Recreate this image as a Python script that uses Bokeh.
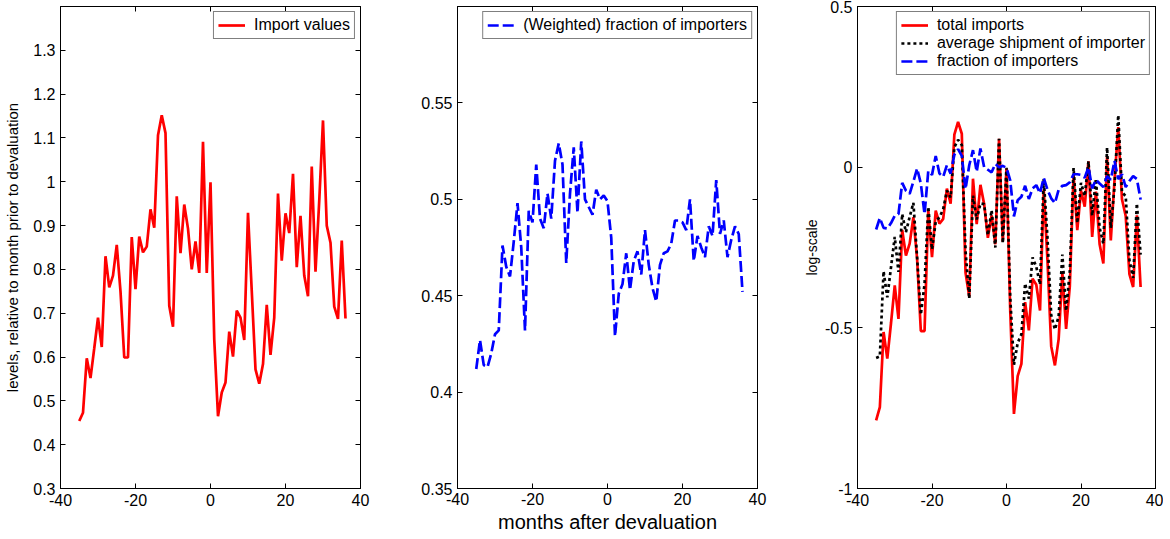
from bokeh.plotting import figure
from bokeh.layouts import row
from bokeh.models import Range1d, FixedTicker, LinearAxis, CustomJSTickFormatter
from bokeh.embed import file_html
from bokeh.resources import INLINE

# ---------------- data ----------------
months = [-35, -34, -33, -32, -31, -30, -29, -28, -27, -26,
          -25, -24, -23, -22, -21, -20, -19, -18, -17, -16,
          -15, -14, -13, -12, -11, -10, -9, -8, -7, -6,
          -5, -4, -3, -2, -1, 0, 1, 2, 3, 4,
          5, 6, 7, 8, 9, 10, 11, 12, 13, 14,
          15, 16, 17, 18, 19, 20, 21, 22, 23, 24,
          25, 26, 27, 28, 29, 30, 31, 32, 33, 34,
          35, 36]

import_values = [0.454, 0.473, 0.597, 0.552, 0.62, 0.69, 0.623, 0.83, 0.759, 0.786,
                 0.856, 0.75, 0.599, 0.599, 0.874, 0.755, 0.875, 0.839, 0.852, 0.937,
                 0.895, 1.106, 1.152, 1.111, 0.717, 0.669, 0.967, 0.837, 0.948, 0.893,
                 0.80, 0.864, 0.792, 1.091, 0.792, 0.999, 0.64, 0.465, 0.519, 0.542,
                 0.658, 0.601, 0.706, 0.69, 0.639, 0.929, 0.751, 0.572, 0.539, 0.584,
                 0.719, 0.605, 0.69, 0.973, 0.82, 0.928, 0.883, 1.018, 0.805, 0.922,
                 0.786, 0.739, 1.035, 0.795, 0.957, 1.14, 0.90, 0.861, 0.715, 0.687,
                 0.866, 0.688]

weighted_fraction = [0.412, 0.427, 0.414, 0.413, 0.42, 0.43, 0.432, 0.476, 0.465, 0.46,
                     0.478, 0.498, 0.475, 0.432, 0.494, 0.488, 0.518, 0.49, 0.485, 0.503,
                     0.49, 0.52, 0.529, 0.518, 0.467, 0.503, 0.527, 0.493, 0.53, 0.50,
                     0.496, 0.492, 0.505, 0.50, 0.502, 0.499, 0.48, 0.429, 0.451, 0.456,
                     0.472, 0.453, 0.468, 0.473, 0.461, 0.484, 0.466, 0.454, 0.447, 0.466,
                     0.472, 0.473, 0.477, 0.489, 0.489, 0.488, 0.484, 0.500, 0.468, 0.481,
                     0.475, 0.470, 0.486, 0.481, 0.510, 0.482, 0.489, 0.470, 0.479, 0.486,
                     0.482, 0.452]

log_total_imports = [-0.788, -0.747, -0.513, -0.596, -0.485, -0.368, -0.472, -0.195, -0.275, -0.238,
                     -0.156, -0.285, -0.51, -0.51, -0.135, -0.28, -0.135, -0.176, -0.161, -0.067,
                     -0.114, 0.101, 0.141, 0.104, -0.328, -0.403, -0.036, -0.177, -0.055, -0.115,
                     -0.22, -0.150, -0.24, 0.088, -0.232, -0.004, -0.446, -0.768, -0.650, -0.612,
                     -0.42, -0.508, -0.347, -0.366, -0.446, -0.07, -0.29, -0.557, -0.617, -0.535,
                     -0.33, -0.503, -0.37, -0.025, -0.196, -0.073, -0.123, 0.018, -0.217, -0.076,
                     -0.24, -0.30, 0.033, -0.228, -0.04, 0.125, -0.10, -0.152, -0.333, -0.373,
                     -0.15, -0.373]

log_avg_shipment = [-0.594, -0.589, -0.324, -0.405, -0.311, -0.217, -0.326, -0.146, -0.202, -0.155,
                    -0.111, -0.281, -0.459, -0.364, -0.123, -0.256, -0.17, -0.156, -0.131, -0.073,
                    -0.094, 0.062, 0.085, 0.069, -0.26, -0.409, -0.089, -0.163, -0.113, -0.115,
                    -0.212, -0.134, -0.25, 0.088, -0.236, -0.002, -0.405, -0.615, -0.547, -0.52,
                    -0.362, -0.409, -0.281, -0.31, -0.365, -0.037, -0.22, -0.46, -0.505, -0.465,
                    -0.272, -0.447, -0.323, -0.003, -0.174, -0.049, -0.09, 0.018, -0.151, -0.037,
                    -0.189, -0.238, 0.061, -0.189, -0.06, 0.162, -0.078, -0.09, -0.29, -0.345,
                    -0.113, -0.272]

log_fraction = [-0.194, -0.158, -0.189, -0.191, -0.174, -0.151, -0.146, -0.049, -0.073, -0.083,
                -0.045, -0.004, -0.051, -0.146, -0.012, -0.024, 0.035, -0.02, -0.03, 0.006,
                -0.02, 0.039, 0.056, 0.035, -0.068, 0.006, 0.053, -0.014, 0.058, 0.0,
                -0.008, -0.016, 0.01, 0.0, 0.004, -0.002, -0.041, -0.153, -0.103, -0.092,
                -0.058, -0.099, -0.066, -0.056, -0.081, -0.033, -0.07, -0.097, -0.112, -0.07,
                -0.058, -0.056, -0.047, -0.022, -0.022, -0.024, -0.033, 0.0, -0.066, -0.039,
                -0.051, -0.062, -0.028, -0.039, 0.02, -0.037, -0.022, -0.062, -0.043, -0.028,
                -0.037, -0.101]

x_ticks = [-40, -20, 0, 20, 40]
y_ticks_1 = [0.3, 0.4, 0.5, 0.6, 0.7, 0.8, 0.9, 1.0, 1.1, 1.2, 1.3]
y_ticks_2 = [0.35, 0.4, 0.45, 0.5, 0.55]
y_ticks_3 = [-1.0, -0.5, 0.0, 0.5]

# ---------------- styling ----------------
FONT = "Liberation Sans"
TICK_SIZE = "16px"
H = 537
num_fmt = "return (Math.round(tick*1000)/1000).toString();"


def style_axis(ax, ticks, label_fmt=True):
    ax.ticker = FixedTicker(ticks=ticks, minor_ticks=[])
    ax.major_tick_in = 5
    ax.major_tick_out = 0
    ax.minor_tick_line_color = None
    ax.axis_line_color = "black"
    ax.major_tick_line_color = "black"
    ax.axis_line_width = 1
    if label_fmt:
        ax.formatter = CustomJSTickFormatter(code=num_fmt)
        ax.major_label_text_font = FONT
        ax.major_label_text_font_size = TICK_SIZE
        ax.major_label_text_color = "black"
        ax.major_label_standoff = 5
    else:
        ax.formatter = CustomJSTickFormatter(code="return '';")
        ax.major_label_text_font_size = "0px"
        ax.major_label_standoff = 0


def make_fig(width, left, right, yr, yticks):
    p = figure(width=width, height=H, x_range=Range1d(-40, 40), y_range=Range1d(*yr),
               output_backend="svg", toolbar_location=None,
               min_border_left=left, min_border_right=right,
               min_border_top=6, min_border_bottom=49)
    p.xgrid.visible = False
    p.ygrid.visible = False
    p.outline_line_color = "black"
    p.background_fill_color = "white"
    p.border_fill_color = "white"
    xax = p.below[0]
    yax = p.left[0]
    style_axis(xax, x_ticks)
    style_axis(yax, yticks)
    ax_r = LinearAxis()
    style_axis(ax_r, yticks, label_fmt=False)
    p.add_layout(ax_r, "right")
    ax_t = LinearAxis()
    style_axis(ax_t, x_ticks, label_fmt=False)
    p.add_layout(ax_t, "above")
    return p, xax, yax


def style_label(ax, text, size, standoff):
    ax.axis_label = text
    ax.axis_label_text_font = FONT
    ax.axis_label_text_font_size = size
    ax.axis_label_text_font_style = "normal"
    ax.axis_label_text_color = "black"
    ax.axis_label_standoff = standoff


def style_legend(p):
    lg = p.legend[0]
    lg.location = "top_right"
    lg.margin = 5
    lg.padding = 4
    lg.spacing = 0
    lg.glyph_width = 27
    lg.glyph_height = 18
    lg.label_height = 18
    lg.label_standoff = 9
    lg.label_text_font = FONT
    lg.label_text_font_size = "16px"
    lg.label_text_color = "black"
    lg.border_line_color = "black"
    lg.border_line_width = 1
    lg.background_fill_color = "white"
    lg.background_fill_alpha = 1.0


LW = 2.7

# Panel 1
p1, x1, y1 = make_fig(400, 60, 40, (0.3, 1.4), y_ticks_1)
p1.line(months, import_values, line_color="#ff0000", line_width=LW, legend_label="Import values")
style_label(y1, "levels, relative to month prior to devaluation", "15px", 9)
style_legend(p1)

# Panel 2
p2, x2, y2 = make_fig(400, 57, 43, (0.35, 0.6), y_ticks_2)
p2.line(months, weighted_fraction, line_color="#0000ff", line_width=LW, line_dash="11 4",
        legend_label="(Weighted) fraction of importers")
style_label(x2, "months after devaluation", "20px", 3)
x2.major_label_standoff = 4
style_legend(p2)

# Panel 3
p3, x3, y3 = make_fig(363, 55, 8, (-1.0, 0.5), y_ticks_3)
p3.line(months, log_total_imports, line_color="#ff0000", line_width=LW, legend_label="total imports")
p3.line(months, log_avg_shipment, line_color="black", line_width=LW, line_dash="3 3",
        legend_label="average shipment of importer")
p3.line(months, log_fraction, line_color="#0000ff", line_width=LW, line_dash="11 4",
        legend_label="fraction of importers")
style_label(y3, "log-scale", "14px", 2)
style_legend(p3)

layout = row(p1, p2, p3)
open("out.html", "w").write(file_html(layout, INLINE))
